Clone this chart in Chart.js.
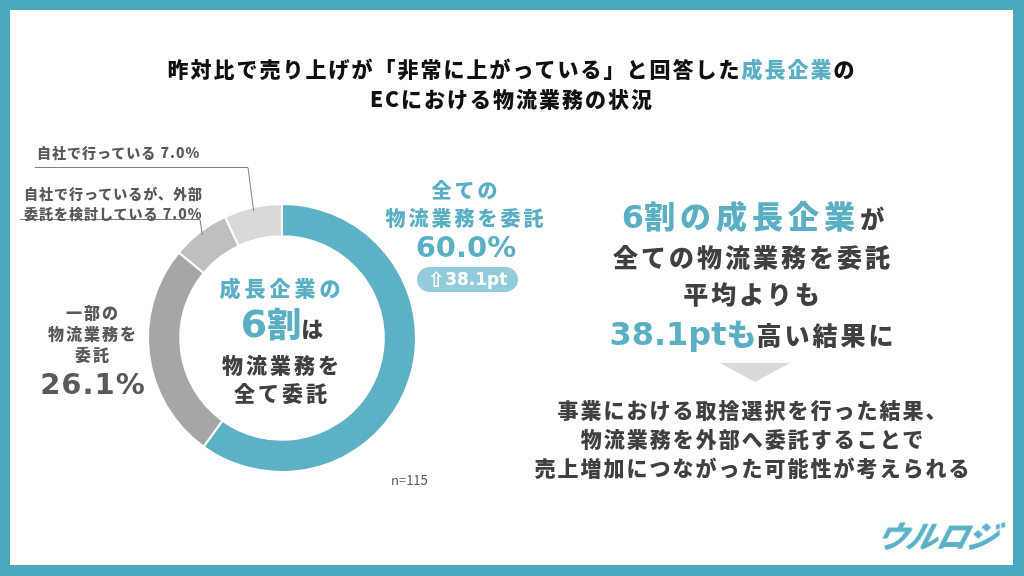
<!DOCTYPE html>
<html lang="ja">
<head>
<meta charset="utf-8">
<script src="https://cdn.jsdelivr.net/npm/chart.js@4.4.0/dist/chart.umd.min.js"></script>
<style>
html, body { margin: 0; padding: 0; }
body {
    width: 1024px; height: 576px; position: relative; overflow: hidden;
    background: #4BA9BD;
    font-family: "Noto Sans CJK JP", sans-serif; font-weight: 900; color: #404040;
}
#panel { position: absolute; left: 10px; top: 10px; width: 1003px; height: 555px; background: #fff; }
#myDonut { position: absolute; left: 0; top: 0; }
.t { position: absolute; white-space: nowrap; text-align: center; line-height: 1; }
.teal { color: #5AAFC4; }
.num { font-family: "DejaVu Sans", "Noto Sans CJK JP", sans-serif; font-weight: bold; }
.gray { color: #595959; }
</style>
</head>
<body>
<div id="panel"></div>
<canvas id="myDonut" width="1024" height="576"></canvas>

<!-- titre -->
<div class="t" style="left:0;width:1024px;top:53px;font-size:21px;letter-spacing:2px;line-height:30px;color:#111">
    昨対比で売り上げが「非常に上がっている」と回答した<span class="teal">成長企業</span>の<br>ECにおける物流業務の状況
</div>

<!-- étiquettes à gauche en haut -->
<div class="t gray" style="left:37px;top:145px;font-size:14px;letter-spacing:1px;text-align:left" id="lblSelf"></div>
<div class="t gray" style="left:24px;top:183px;font-size:14px;letter-spacing:1px;line-height:20px;text-align:left" id="lblConsider"></div>

<!-- étiquette 26.1% -->
<div class="t gray" style="left:13px;width:160px;top:302px;font-size:16px;letter-spacing:2px;line-height:21px">一部の<br>物流業務を<br>委託</div>
<div class="t gray num" style="left:13px;width:160px;top:370px;font-size:29px;letter-spacing:1px" id="pctPart"></div>

<!-- étiquette 60.0% -->
<div class="t teal" style="left:366px;width:200px;top:176px;font-size:20px;letter-spacing:3px;line-height:28px">全ての<br>物流業務を委託</div>
<div class="t teal num" style="left:366px;width:200px;top:233px;font-size:29px" id="pctAll"></div>
<div class="t num" style="left:417px;width:101px;top:267px;height:25px;line-height:25px;border-radius:13px;background:#92CBD9;color:#fff;font-size:17px"><span style="font-size:21px;vertical-align:-2px">⇧</span><span id="pill"></span></div>

<!-- texte au centre du donut -->
<div class="t teal" style="left:182px;width:200px;top:277px;font-size:21px;letter-spacing:4px">成長企業の</div>
<div class="t" style="left:182px;width:200px;top:303px;line-height:40px"><span class="teal num" style="font-size:38px">6</span><span class="teal" style="font-size:34px">割</span><span style="font-size:22px">は</span></div>
<div class="t" style="left:182px;width:200px;top:354px;font-size:21px;letter-spacing:3px">物流業務を</div>
<div class="t" style="left:182px;width:200px;top:382px;font-size:21px;letter-spacing:3px">全て委託</div>

<div class="t gray" style="left:391px;top:473px;font-size:13px;font-weight:normal" id="nLabel"></div>

<!-- bloc de droite -->
<div class="t" style="left:553px;width:400px;top:195px;line-height:40px">
    <span class="teal"><span class="num" style="font-size:32px">6</span><span style="font-size:31px;letter-spacing:5px">割の成長企業</span></span><span style="font-size:24px">が</span>
</div>
<div class="t" style="left:553px;width:400px;top:244px;font-size:25px;letter-spacing:3px">全ての物流業務を委託</div>
<div class="t" style="left:553px;width:400px;top:281px;font-size:25px;letter-spacing:3px">平均よりも</div>
<div class="t" style="left:553px;width:400px;top:312px;line-height:40px">
    <span class="teal num" style="font-size:32px" id="gapBig"></span><span class="teal" style="font-size:30px">も</span><span style="font-size:25px;letter-spacing:3px">高い結果に</span>
</div>

<div style="position:absolute;left:720px;top:363px;width:70px;height:19px;background:#D9D9D9;clip-path:polygon(0 0,100% 0,50% 100%)"></div>

<div class="t" style="left:503px;width:500px;top:395px;font-size:21px;letter-spacing:2px;line-height:29px">
    事業における取捨選択を行った結果、<br>物流業務を外部へ委託することで<br>売上増加につながった可能性が考えられる
</div>

<!-- logo -->
<div class="t teal" style="left:878px;top:519px;font-size:31px;letter-spacing:-1px;font-style:italic;transform:skewX(-14deg);color:#5AB2C6">ウルロジ</div>

<script>
// données du graphique
const categories = ['全ての物流業務を委託', '一部の物流業務を委託', '自社で行っているが、外部委託を検討している', '自社で行っている']
const shares = [60.0, 26.1, 7.0, 7.0]
const sliceColors = ['#5DB1C5', '#A6A6A6', '#BFBFBF', '#D9D9D9']
const gapToAverage = 38.1
const sampleSize = 115

const pct = v => `${v.toFixed(1)}%`

// textes issus des données
document.getElementById('pctAll').textContent = pct(shares[0])
document.getElementById('pctPart').textContent = pct(shares[1])
document.getElementById('lblConsider').innerHTML = `自社で行っているが、外部<br>委託を検討している ${pct(shares[2])}`
document.getElementById('lblSelf').textContent = `自社で行っている ${pct(shares[3])}`
document.getElementById('pill').textContent = `${gapToAverage.toFixed(1)}pt`
document.getElementById('gapBig').textContent = `${gapToAverage.toFixed(1)}pt`
document.getElementById('nLabel').textContent = `n=${sampleSize}`

// lignes de rappel vers les petites parts
const leaderLines = {
    id: 'leaderLines',
    afterDatasetsDraw(chart) {
        const ctx = chart.ctx
        const arcs = chart.getDatasetMeta(0).data
        const lines = [
            { index: 3, from: [35, 167], knee: [248, 167] },
            { index: 2, from: [20, 219], knee: [200, 219] }
        ]
        ctx.save()
        ctx.strokeStyle = '#808080'
        ctx.lineWidth = 1
        lines.forEach(l => {
            const arc = arcs[l.index]
            const p = arc.getProps(['x', 'y', 'startAngle', 'endAngle', 'outerRadius'], true)
            const mid = (p.startAngle + p.endAngle) / 2
            const r = p.outerRadius - 4
            ctx.beginPath()
            ctx.moveTo(l.from[0], l.from[1] + 0.5)
            ctx.lineTo(l.knee[0], l.knee[1] + 0.5)
            ctx.lineTo(p.x + Math.cos(mid) * r, p.y + Math.sin(mid) * r)
            ctx.stroke()
        })
        ctx.restore()
    }
}

const ctx = document.getElementById('myDonut').getContext('2d')
const myDonut = new Chart(ctx, {
    type: 'doughnut',
    data: {
        labels: categories,
        datasets: [{
            data: shares,
            backgroundColor: sliceColors,
            borderColor: '#ffffff',
            borderWidth: 2
        }]
    },
    options: {
        responsive: false,
        maintainAspectRatio: false,
        animation: false,
        cutout: '76%',
        layout: { padding: { left: 147, top: 203, right: 607, bottom: 103 } },
        plugins: {
            legend: { display: false },
            tooltip: { enabled: false }
        }
    },
    plugins: [leaderLines]
})
</script>
</body>
</html>
